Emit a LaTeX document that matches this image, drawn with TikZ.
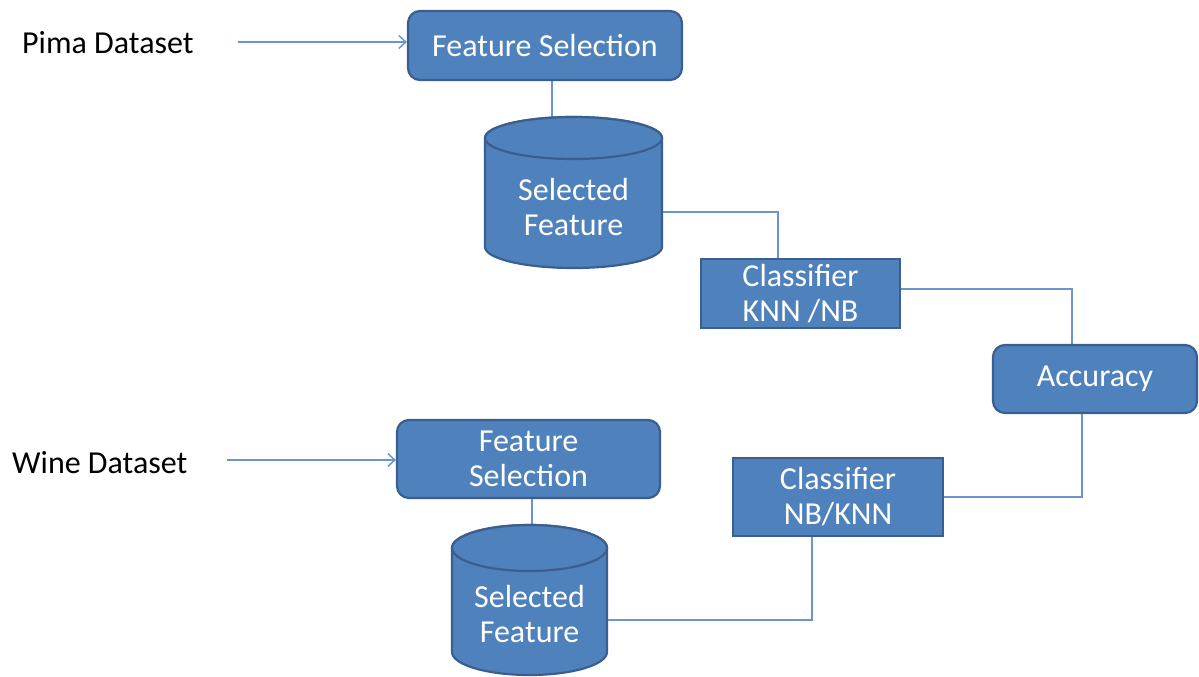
\documentclass[tikz,border=0pt]{standalone}
\usepackage{fontspec}
\setmainfont{Carlito}
\usetikzlibrary{arrows.meta,calc,backgrounds}
\definecolor{boxfill}{HTML}{4F81BD}
\definecolor{boxedge}{HTML}{3A5F8E}
\definecolor{linkcol}{HTML}{6A96CC}
\newcommand\bigtext{\fontsize{32}{35}\selectfont}
\newcommand\drawcyl[3]{%
  \path[cylshape] ($(#1.north west)+(0,#3)$) -- ($(#1.south west)+(0,-#3)$)
     arc[start angle=180,end angle=360,x radius=#2pt,y radius=#3pt]
     -- ($(#1.north east)+(0,#3)$)
     arc[start angle=0,end angle=180,x radius=#2pt,y radius=#3pt] -- cycle;
  \path[cylshape] ($(#1.north)+(0,#3)$) ellipse[x radius=#2pt,y radius=#3pt];}
\tikzset{
  procbox/.style={draw=boxedge, fill=boxfill, line width=2.2pt, rounded corners=12pt,
    text=white, font=\bigtext, align=center, inner sep=0pt},
  sqbox/.style={procbox, rounded corners=0pt},
  cylshape/.style={draw=boxedge, fill=boxfill, line width=2.2pt, line join=round},
  ghost/.style={inner sep=0pt, outer sep=0pt},
  intext/.style={text=white, font=\bigtext, align=center, inner sep=0pt},
  dslabel/.style={text=black, font=\bigtext, inner sep=0pt},
  link/.style={draw=linkcol, line width=1.5pt},
  inarrow/.style={link, -{Straight Barb[length=7pt,width=13pt]}},
}
\begin{document}
\begin{tikzpicture}[x=1pt,y=-1pt]
\useasboundingbox (0,0) rectangle (1199,677);
% boxes
\node[procbox, minimum width=274pt, minimum height=69pt] (fs1) at (545,45.5) {Feature Selection};
\node[sqbox, minimum width=199pt, minimum height=69pt] (cls1) at (800.5,293.5) {Classifier\\KNN /NB};
\node[procbox, minimum width=204pt, minimum height=68pt] (acc) at (1095,379) {Accuracy};
\node[sqbox, minimum width=210pt, minimum height=78pt] (cls2) at (838,497) {Classifier\\NB/KNN};
\node[procbox, minimum width=263pt, minimum height=78pt] (fs2) at (528.5,459) {Feature\\Selection};
% cylinders
\node[ghost, minimum width=177pt, minimum height=151pt] (cyl1) at (573.5,192.5) {};
\drawcyl{cyl1}{88.5}{21}
\node[intext] (cyl1t) at (573.5,207) {Selected\\Feature};
\node[ghost, minimum width=155pt, minimum height=150pt] (cyl2) at (529.5,600) {};
\drawcyl{cyl2}{77.5}{23}
\node[intext] (cyl2t) at (529.5,614) {Selected\\Feature};
% labels
\node[dslabel, anchor=base west] (pima) at (22,53) {Pima Dataset};
\node[dslabel, anchor=base west] (wine) at (12,473) {Wine Dataset};
% connector end points
\coordinate (pimaS) at (238,42);
\coordinate (wineS) at (227,460);
\coordinate (c1top) at ([xshift=-21.5pt]cyl1.north);
\coordinate (c1r) at ([yshift=-19.5pt]cyl1.east);
\coordinate (k1) at ([xshift=-22.5pt]cls1.north);
\coordinate (cls1r) at ([yshift=4.5pt]cls1.east);
\coordinate (acctop) at ([xshift=-23pt]acc.north);
\coordinate (accbot) at ([xshift=-13pt]acc.south);
\coordinate (c2top) at ([xshift=2.5pt]cyl2.north);
\coordinate (c2r) at ([yshift=-20pt]cyl2.east);
\coordinate (k2) at ([xshift=-26pt]cls2.south);
\begin{scope}[on background layer]
  \fill[white] (0,0) rectangle (1199,677);
  \draw[link] (fs1.south -| c1top) -- (c1top);
  \draw[link] (c1r) -| (k1);
  \draw[link] (cls1r) -| (acctop);
  \draw[link] (accbot) |- (cls2.east);
  \draw[link] (fs2.south -| c2top) -- (c2top);
  \draw[link] (c2r) -| (k2);
\end{scope}
\draw[inarrow] (pimaS) -- (pimaS -| fs1.west);
\draw[inarrow] (wineS) -- (wineS -| fs2.west);
\end{tikzpicture}
\end{document}
